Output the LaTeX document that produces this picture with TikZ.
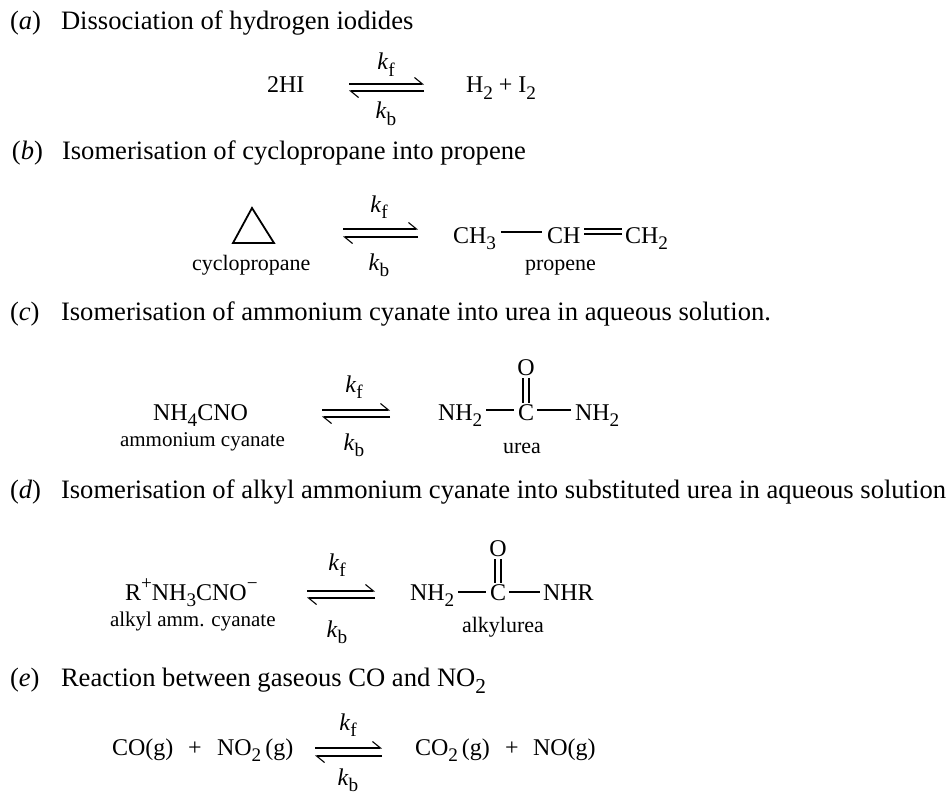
\documentclass[tikz,border=0pt]{standalone}
\usepackage{fontspec}
\usepackage{graphicx}
\setmainfont{Liberation Serif}
\usetikzlibrary{arrows.meta}
\newcommand\lo[1]{\raisebox{-0.28em}{\scalebox{0.8}{#1}}}
\newcommand\hi[1]{\raisebox{0.42em}{\scalebox{0.8}{#1}}}
\newcommand\kf{\textit{k}\lo{f}}
\newcommand\kb{\textit{k}\lo{b}}
\begin{document}
\begin{tikzpicture}[x=1pt,y=-1pt,
  every node/.style={inner sep=0pt, outer sep=0pt},
  head/.style={anchor=base west, font=\fontsize{26.6}{30}\selectfont},
  chem/.style={anchor=base west, font=\fontsize{24}{28}\selectfont},
  lab/.style={anchor=base west, font=\fontsize{22}{26}\selectfont},
  labs/.style={anchor=base west, font=\fontsize{21}{25}\selectfont},
  rate/.style={anchor=base, font=\fontsize{24}{28}\selectfont},
  eqarrow/.style={line width=1.1pt, -{Straight Barb[left,length=8pt,width=13pt]}},
  bond/.style={line width=1.3pt}]
\useasboundingbox (0,0) rectangle (951,797);

% ---------- (a)
\node[head] (la) at (10,30) {(\textit{a})};
\node[head] (ta) at (61,30) {Dissociation of hydrogen iodides};
\node[chem] (hi) at (267,93) {2HI};
\node[chem] (h2) at (466,93) {H\lo{2} + I\lo{2}};
\node[rate] (kfa) at (386,70) {\kf};
\node[rate] (kba) at (386,119) {\kb};
\coordinate (a1) at (349,84); \coordinate (a2) at (424,84);
\coordinate (a3) at (424,91); \coordinate (a4) at (349,91);
\draw[eqarrow] (a1) -- (a2);
\draw[eqarrow] (a3) -- (a4);

% ---------- (b)
\node[head] (lb) at (12,160) {(\textit{b})};
\node[head] (tb) at (62,160) {Isomerisation of cyclopropane into propene};
\coordinate (t1) at (252,208); \coordinate (t2) at (274,243); \coordinate (t3) at (233,243);
\draw[line width=1.8pt, line join=miter] (t1) -- (t2) -- (t3) -- cycle;
\node[lab] (cyc) at (192,270) {cyclopropane};
\node[rate] (kfb) at (379,212) {\kf};
\node[rate] (kbb) at (379,270) {\kb};
\coordinate (b1) at (343,229); \coordinate (b2) at (418,229);
\coordinate (b3) at (418,237); \coordinate (b4) at (343,237);
\draw[eqarrow] (b1) -- (b2);
\draw[eqarrow] (b3) -- (b4);
\node[chem] (ch3) at (453,243) {CH\lo{3}};
\node[chem] (chm) at (547,243) {CH};
\node[chem] (ch2) at (625,243) {CH\lo{2}};
\draw[bond] ([xshift=5pt,yshift=11pt]ch3.base east) -- ([xshift=-5pt,yshift=11pt]chm.base west);
\draw[bond] ([xshift=4pt,yshift=14pt]chm.base east) -- ([xshift=-3pt,yshift=14pt]ch2.base west);
\draw[bond] ([xshift=4pt,yshift=9pt]chm.base east) -- ([xshift=-3pt,yshift=9pt]ch2.base west);
\node[lab] (prop) at (525,270) {propene};

% ---------- (c)
\node[head] (lc) at (10,320) {(\textit{c})};
\node[head] (tc) at (61,320) {Isomerisation of ammonium cyanate into urea in aqueous solution.};
\node[chem] (nh4) at (153,420) {NH\lo{4}CNO};
\node[labs] (amc) at (120,446) {ammonium cyanate};
\node[rate] (kfc) at (354,392) {\kf};
\node[rate] (kbc) at (354,450) {\kb};
\coordinate (c1) at (322,410); \coordinate (c2) at (390,410);
\coordinate (c3) at (390,417); \coordinate (c4) at (322,417);
\draw[eqarrow] (c1) -- (c2);
\draw[eqarrow] (c3) -- (c4);
\node[chem] (un1) at (438,420) {NH\lo{2}};
\node[chem] (uc) at (518,420) {C};
\node[chem] (un2) at (575,420) {NH\lo{2}};
\node[chem, anchor=base] (uo) at ([yshift=45pt]uc.base) {O};
\draw[bond] ([xshift=4pt,yshift=10pt]un1.base east) -- ([xshift=-4pt,yshift=10pt]uc.base west);
\draw[bond] ([xshift=3pt,yshift=10pt]uc.base east) -- ([xshift=-4pt,yshift=10pt]un2.base west);
\draw[bond] ([xshift=-3pt,yshift=-3pt]uo.south) -- ([xshift=-3pt,yshift=1pt]uc.north);
\draw[bond] ([xshift=3pt,yshift=-3pt]uo.south) -- ([xshift=3pt,yshift=1pt]uc.north);
\node[lab] (urea) at (503,453) {urea};

% ---------- (d)
\node[head] (ld) at (10,498) {(\textit{d})};
\node[head] (td) at (61,498) {Isomerisation of alkyl ammonium cyanate into substituted urea in aqueous solution};
\node[chem] (rnh) at (125,600) {R\hi{+}NH\lo{3}CNO\hi{−}};
\node[labs] (aac) at (110,626) {alkyl amm. cyanate};
\node[rate] (kfd) at (337,570) {\kf};
\node[rate] (kbd) at (337,637) {\kb};
\coordinate (d1) at (307,591); \coordinate (d2) at (375,591);
\coordinate (d3) at (375,598); \coordinate (d4) at (307,598);
\draw[eqarrow] (d1) -- (d2);
\draw[eqarrow] (d3) -- (d4);
\node[chem] (vn1) at (410,600) {NH\lo{2}};
\node[chem] (vc) at (490,600) {C};
\node[chem] (vn2) at (543,600) {NHR};
\node[chem, anchor=base] (vo) at ([yshift=44pt]vc.base) {O};
\draw[bond] ([xshift=4pt,yshift=8pt]vn1.base east) -- ([xshift=-4pt,yshift=8pt]vc.base west);
\draw[bond] ([xshift=3pt,yshift=8pt]vc.base east) -- ([xshift=-3pt,yshift=8pt]vn2.base west);
\draw[bond] ([xshift=-3pt,yshift=-3pt]vo.south) -- ([xshift=-3pt,yshift=1pt]vc.north);
\draw[bond] ([xshift=3pt,yshift=-3pt]vo.south) -- ([xshift=3pt,yshift=1pt]vc.north);
\node[lab] (aur) at (462,632) {alkylurea};

% ---------- (e)
\node[head] (le) at (10,686) {(\textit{e})};
\node[head] (te) at (61,686) {Reaction between gaseous CO and NO\lo{2}};
\node[chem] (co) at (112,755) {CO(g)};
\node[chem] (p1) at (188,755) {+};
\node[chem] (no2) at (217,755) {NO\lo{2}\,(g)};
\node[rate] (kfe) at (348,730) {\kf};
\node[rate] (kbe) at (348,785) {\kb};
\coordinate (e1) at (315,748); \coordinate (e2) at (382,748);
\coordinate (e3) at (382,756); \coordinate (e4) at (315,756);
\draw[eqarrow] (e1) -- (e2);
\draw[eqarrow] (e3) -- (e4);
\node[chem] (co2) at (415,755) {CO\lo{2}\,(g)};
\node[chem] (p2) at (505,755) {+};
\node[chem] (no) at (533,755) {NO(g)};
\end{tikzpicture}
\end{document}
